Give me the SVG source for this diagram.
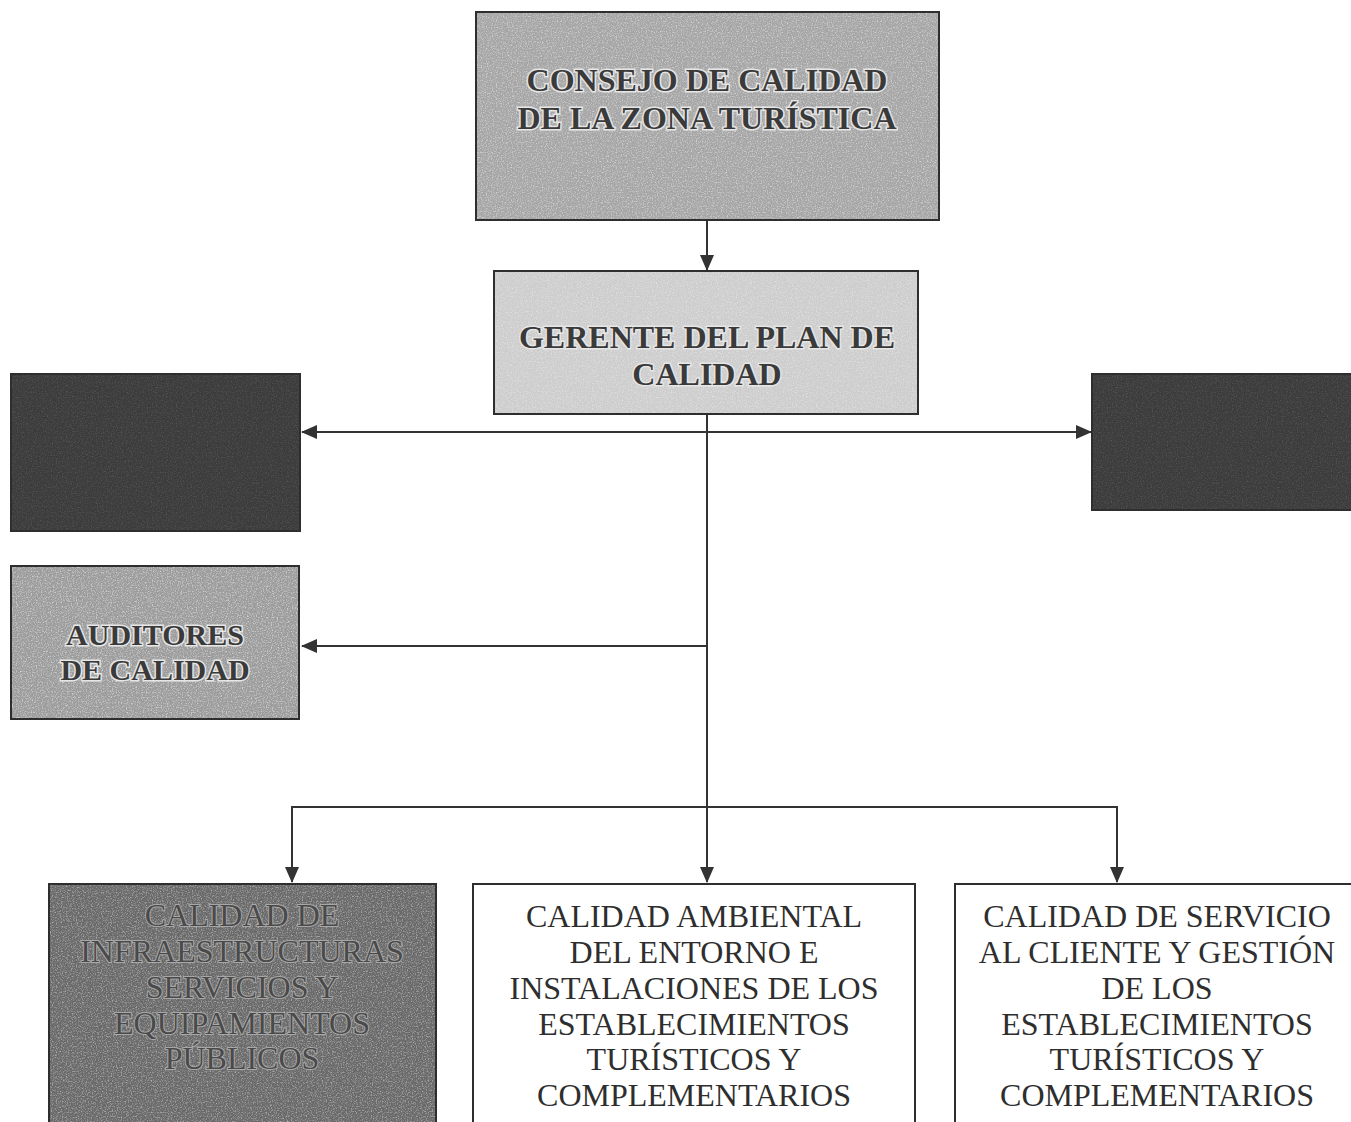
<svg xmlns="http://www.w3.org/2000/svg" width="1351" height="1122" viewBox="0 0 1351 1122">
<style>
.box{stroke:#2e2e2e;stroke-width:2}
.conn{stroke:#333;stroke-width:2;fill:none}
.bold{font-family:"Liberation Serif",serif;font-weight:bold;font-size:32px;fill:#3a3a3a;stroke:#e6e6e6;stroke-width:3;paint-order:stroke;text-anchor:middle}
.small{font-size:30px}
.reg{font-family:"Liberation Serif",serif;font-size:32px;fill:#2e2e2e;text-anchor:middle}
.ghost{font-family:"Liberation Serif",serif;font-size:32px;fill:#4a4a4a;stroke:#a8a8a8;stroke-width:2;paint-order:stroke;text-anchor:middle}
.grain{filter:url(#noise)}
</style>
<defs>
<filter id="noise" x="0" y="0" width="100%" height="100%">
<feTurbulence type="fractalNoise" baseFrequency="0.8" numOctaves="2" seed="7" result="n"/>
<feColorMatrix in="n" type="matrix" values="0 0 0 0 1  0 0 0 0 1  0 0 0 0 1  0 0 0 -2.6 1.4" result="w"/>
<feComposite in="w" in2="SourceGraphic" operator="in"/>
</filter>
<marker id="arr" viewBox="0 0 16 14" refX="15" refY="7" markerWidth="16" markerHeight="14" markerUnits="userSpaceOnUse" orient="auto">
<path d="M0,0 L16,7 L0,14 Z" fill="#333"/>
</marker>
</defs>
<rect width="1351" height="1122" fill="#fff"/>
<g id="connectors">
<line class="conn" x1="707" y1="220" x2="707" y2="270" marker-end="url(#arr)"/>
<line class="conn" x1="707" y1="414" x2="707" y2="882" marker-end="url(#arr)"/>
<line class="conn" x1="707" y1="432" x2="302" y2="432" marker-end="url(#arr)"/>
<line class="conn" x1="707" y1="432" x2="1091" y2="432" marker-end="url(#arr)"/>
<line class="conn" x1="707" y1="646" x2="302" y2="646" marker-end="url(#arr)"/>
<polyline class="conn" points="292,870 292,807 1117,807 1117,870"/>
<line class="conn" x1="292" y1="860" x2="292" y2="882" marker-end="url(#arr)"/>
<line class="conn" x1="1117" y1="860" x2="1117" y2="882" marker-end="url(#arr)"/>
</g>
<g id="consejo">
<rect class="box" x="476" y="12" width="463" height="208" fill="#a6a6a6"/>
<rect x="477" y="13" width="461" height="206" class="grain" opacity="0.5"/>
<text class="bold" x="707" y="91">CONSEJO DE CALIDAD</text>
<text class="bold" x="707" y="129">DE LA ZONA TURÍSTICA</text>
</g>
<g id="gerente">
<rect class="box" x="494" y="271" width="424" height="143" fill="#cdcdcd"/>
<rect x="495" y="272" width="422" height="141" class="grain" opacity="0.4"/>
<text class="bold" x="707" y="348">GERENTE DEL PLAN DE</text>
<text class="bold" x="707" y="385">CALIDAD</text>
</g>
<g id="left-dark">
<rect class="box" x="11" y="374" width="289" height="157" fill="#3c3c3c"/>
<rect x="12" y="375" width="287" height="155" class="grain" opacity="0.12"/>
</g>
<g id="right-dark">
<rect class="box" x="1092" y="374" width="262" height="136" fill="#3c3c3c"/>
<rect x="1093" y="375" width="258" height="134" class="grain" opacity="0.12"/>
</g>
<g id="auditores">
<rect class="box" x="11" y="566" width="288" height="153" fill="#9c9c9c"/>
<rect x="12" y="567" width="286" height="151" class="grain" opacity="0.55"/>
<text class="bold small" x="155" y="645">AUDITORES</text>
<text class="bold small" x="155" y="680">DE CALIDAD</text>
</g>
<g id="infraestructuras">
<rect class="box" x="49" y="884" width="387" height="250" fill="#6a6a6a"/>
<rect x="50" y="885" width="385" height="237" class="grain" opacity="0.45"/>
<text class="ghost" x="242" y="926">CALIDAD DE</text>
<text class="ghost" x="242" y="962">INFRAESTRUCTURAS</text>
<text class="ghost" x="242" y="998">SERVICIOS Y</text>
<text class="ghost" x="242" y="1034">EQUIPAMIENTOS</text>
<text class="ghost" x="242" y="1069">PÚBLICOS</text>
</g>
<g id="ambiental">
<rect class="box" x="473" y="884" width="442" height="250" fill="#fff"/>
<text class="reg" x="694" y="927">CALIDAD AMBIENTAL</text>
<text class="reg" x="694" y="963">DEL ENTORNO E</text>
<text class="reg" x="694" y="999">INSTALACIONES DE LOS</text>
<text class="reg" x="694" y="1035">ESTABLECIMIENTOS</text>
<text class="reg" x="694" y="1070">TURÍSTICOS Y</text>
<text class="reg" x="694" y="1106">COMPLEMENTARIOS</text>
</g>
<g id="servicio">
<rect class="box" x="955" y="884" width="400" height="250" fill="#fff"/>
<text class="reg" x="1157" y="927">CALIDAD DE SERVICIO</text>
<text class="reg" x="1157" y="963">AL CLIENTE Y GESTIÓN</text>
<text class="reg" x="1157" y="999">DE LOS</text>
<text class="reg" x="1157" y="1035">ESTABLECIMIENTOS</text>
<text class="reg" x="1157" y="1070">TURÍSTICOS Y</text>
<text class="reg" x="1157" y="1106">COMPLEMENTARIOS</text>
</g>
</svg>
